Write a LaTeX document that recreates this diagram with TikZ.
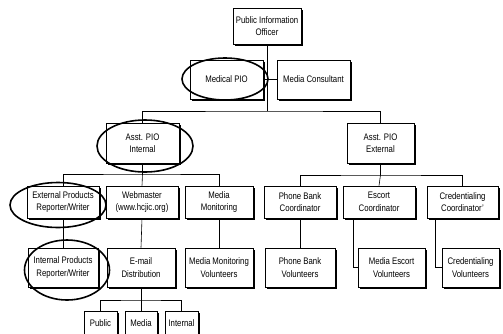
\documentclass[tikz,border=0pt]{standalone}
\usepackage{fontspec}
\setmainfont{Liberation Sans}[FakeStretch=0.82]
\usetikzlibrary{shadows,shapes.geometric}
\tikzset{
  box/.style={draw=black, line width=0.7pt, fill=white, align=center, inner sep=1pt,
    font=\fontsize{9.5}{12.5}\selectfont,
    drop shadow={shadow xshift=1.8pt, shadow yshift=-1.8pt, fill=black, opacity=1}},
  conn/.style={draw=black, line width=0.6pt},
  oval/.style={ellipse, draw=black, line width=1.6pt, inner sep=0pt}
}
\begin{document}
\begin{tikzpicture}[x=1pt,y=-1pt]
\useasboundingbox (0,0) rectangle (503,333);
\clip (0,0) rectangle (503,333);
\fill[white] (0,0) rectangle (503,333);
% level 1
\node[box, minimum width=68pt, minimum height=36pt] (pio) at (267,26) {Public Information\\Officer};
\node[box, minimum width=73pt, minimum height=39pt] (medpio) at (226.5,79.5) {Medical PIO};
\node[box, minimum width=73pt, minimum height=39pt] (mcons) at (313.5,79.5) {Media Consultant};
% level 2
\node[box, minimum width=73pt, minimum height=40pt] (asi) at (142.5,143) {Asst. PIO\\Internal};
\node[box, minimum width=67pt, minimum height=40pt] (ase) at (380.5,143) {Asst. PIO\\External};
% level 3
\node[box, minimum width=72pt, minimum height=32pt] (ext) at (63,202) {External Products\\Reporter/Writer};
\node[box, minimum width=72pt, minimum height=32pt] (web) at (142,202) {Webmaster\\(www.hcjic.org)};
\node[box, minimum width=68pt, minimum height=32pt] (mm) at (219,202) {Media\\Monitoring};
\node[box, minimum width=72pt, minimum height=32pt] (pbc) at (300,202) {Phone Bank\\Coordinator};
\node[box, minimum width=72pt, minimum height=32pt] (esc) at (379,202) {Escort\\Coordinator};
\node[box, minimum width=71pt, minimum height=32pt] (crc) at (462.5,202) {Credentialing\\Coordinator’};
% level 4
\node[box, minimum width=70pt, minimum height=39pt] (intp) at (63,267.5) {Internal Products\\Reporter/Writer};
\node[box, minimum width=68pt, minimum height=39pt] (em) at (141,267.5) {E-mail\\Distribution};
\node[box, minimum width=68pt, minimum height=39pt] (mmv) at (219,267.5) {Media Monitoring\\Volunteers};
\node[box, minimum width=70pt, minimum height=39pt] (pbv) at (300,267.5) {Phone Bank\\Volunteers};
\node[box, minimum width=67pt, minimum height=39pt] (mev) at (391.5,267.5) {Media Escort\\Volunteers};
\node[box, minimum width=57pt, minimum height=39pt] (cv) at (470.5,267.5) {Credentialing\\Volunteers};
% level 5
\node[box, minimum width=33pt, minimum height=24pt] (pub) at (100.5,323) {Public};
\node[box, minimum width=32pt, minimum height=24pt] (med) at (141,323) {Media};
\node[box, minimum width=33pt, minimum height=24pt] (intl) at (181.5,323) {Internal};
% connectors
\coordinate (b0) at (267,111);
\draw[conn] (pio.south) -- (b0);
\draw[conn] (medpio.east) -- (mcons.west);
\draw[conn] (asi.north) |- (b0) -| (ase.north);
\coordinate (bi) at (142.5,174);
\draw[conn] (asi.south) -- (bi);
\draw[conn] (ext.north) |- (bi) -| (mm.north);
\draw[conn] (bi) -- (web.north);
\coordinate (be) at (380.5,175);
\draw[conn] (ase.south) -- (be);
\draw[conn] (pbc.north) |- (be) -| (crc.north);
\draw[conn] (be) -- (esc.north);
\draw[conn] (ext.south) -- (intp.north);
\draw[conn] (web.south) -- (em.north);
\draw[conn] (mm.south) -- (mmv.north);
\draw[conn] (pbc.south) -- (pbv.north);
\draw[conn] ([xshift=-26pt]esc.south) |- (mev.west);
\draw[conn] ([xshift=-27.5pt]crc.south) |- (cv.west);
\coordinate (bm) at (141,300);
\draw[conn] (em.south) -- (bm);
\draw[conn] (pub.north) |- (bm) -| (intl.north);
\draw[conn] (bm) -- (med.north);
% highlight ellipses
\node[oval, minimum width=86pt, minimum height=42pt] (o1) at (225,79) {};
\node[oval, minimum width=96pt, minimum height=52pt] (o2) at (145,146) {};
\node[oval, minimum width=96pt, minimum height=45pt] (o3) at (58,205) {};
\node[oval, minimum width=85pt, minimum height=60pt] (o4) at (67,270) {};
\end{tikzpicture}
\end{document}
